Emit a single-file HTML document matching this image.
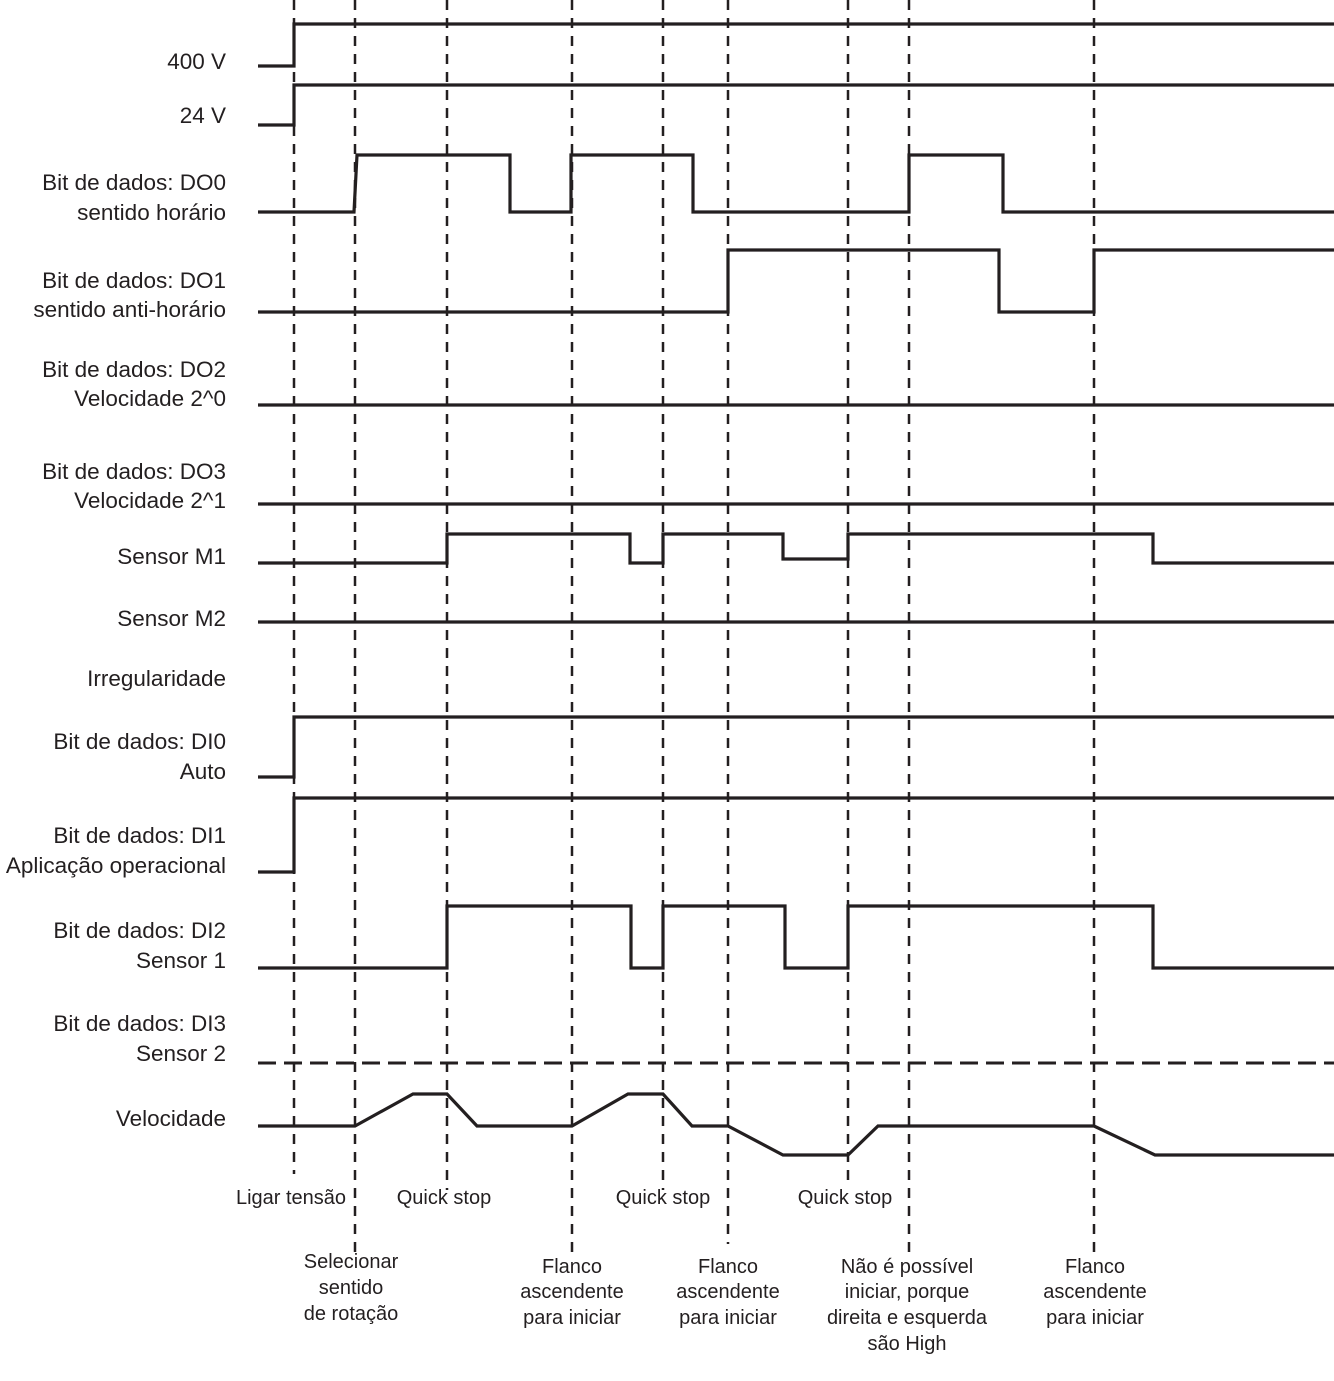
<!DOCTYPE html>
<html><head><meta charset="utf-8"><style>
html,body{margin:0;padding:0;background:#fff;}
svg{display:block;}
text{font-family:"Liberation Sans",sans-serif;font-size:22.5px;fill:#231f20;}
text.b{font-size:20px;}
</style></head><body>
<svg width="1334" height="1381" viewBox="0 0 1334 1381" xmlns="http://www.w3.org/2000/svg">
<g stroke="#231f20" stroke-width="2.5" stroke-dasharray="10,8" fill="none">
<line x1="294" y1="0" x2="294" y2="1174"/>
<line x1="355" y1="0" x2="355" y2="1256"/>
<line x1="447" y1="0" x2="447" y2="1190"/>
<line x1="572" y1="0" x2="572" y2="1254"/>
<line x1="663" y1="0" x2="663" y2="1190"/>
<line x1="728" y1="0" x2="728" y2="1244"/>
<line x1="848" y1="0" x2="848" y2="1180"/>
<line x1="909" y1="0" x2="909" y2="1254"/>
<line x1="1094" y1="0" x2="1094" y2="1254"/>
</g>
<line x1="258" y1="1063" x2="1334" y2="1063" stroke="#231f20" stroke-width="3" stroke-dasharray="18,8"/>
<g stroke="#231f20" stroke-width="3.2" fill="none" stroke-linejoin="miter">
<polyline points="258,66 294,66 294,24 1334,24"/>
<polyline points="258,125 294,125 294,85 1334,85"/>
<polyline points="258,212 354,212 357,155 510,155 510,212 571,212 571,155 693,155 693,212 909,212 909,155 1003,155 1003,212 1334,212"/>
<polyline points="258,312 728,312 728,250 999,250 999,312 1094,312 1094,250 1334,250"/>
<line x1="258" y1="405" x2="1334" y2="405"/>
<line x1="258" y1="504" x2="1334" y2="504"/>
<polyline points="258,563 447,563 447,534 630,534 630,563 663,563 663,534 783,534 783,559 848,559 848,534 1153,534 1153,563 1334,563"/>
<line x1="258" y1="622" x2="1334" y2="622"/>
<polyline points="258,777 294,777 294,717 1334,717"/>
<polyline points="258,872 294,872 294,798 1334,798"/>
<polyline points="258,968 447,968 447,906 631,906 631,968 663,968 663,906 785,906 785,968 848,968 848,906 1153,906 1153,968 1334,968"/>
<polyline points="258,1126 355,1126 413,1094 447,1094 477,1126 572,1126 628,1094 663,1094 692,1126 728,1126 783,1155 848,1155 878,1126 1094,1126 1155,1155 1334,1155"/>
</g>
<g text-anchor="end">
<text x="226" y="69">400 V</text>
<text x="226" y="123">24 V</text>
<text x="226" y="190">Bit de dados: DO0</text>
<text x="226" y="220">sentido horário</text>
<text x="226" y="288">Bit de dados: DO1</text>
<text x="226" y="317">sentido anti-horário</text>
<text x="226" y="377">Bit de dados: DO2</text>
<text x="226" y="406">Velocidade 2^0</text>
<text x="226" y="479">Bit de dados: DO3</text>
<text x="226" y="508">Velocidade 2^1</text>
<text x="226" y="564">Sensor M1</text>
<text x="226" y="626">Sensor M2</text>
<text x="226" y="686">Irregularidade</text>
<text x="226" y="749">Bit de dados: DI0</text>
<text x="226" y="779">Auto</text>
<text x="226" y="843">Bit de dados: DI1</text>
<text x="226" y="873">Aplicação operacional</text>
<text x="226" y="938">Bit de dados: DI2</text>
<text x="226" y="968">Sensor 1</text>
<text x="226" y="1031">Bit de dados: DI3</text>
<text x="226" y="1061">Sensor 2</text>
<text x="226" y="1126">Velocidade</text>
</g>
<g text-anchor="middle">
<text class="b" x="291" y="1204">Ligar tensão</text>
<text class="b" x="444" y="1204">Quick stop</text>
<text class="b" x="663" y="1204">Quick stop</text>
<text class="b" x="845" y="1204">Quick stop</text>
<text class="b" x="351" y="1268">Selecionar</text>
<text class="b" x="351" y="1294">sentido</text>
<text class="b" x="351" y="1320">de rotação</text>
<text class="b" x="572" y="1273">Flanco</text>
<text class="b" x="572" y="1298">ascendente</text>
<text class="b" x="572" y="1324">para iniciar</text>
<text class="b" x="728" y="1273">Flanco</text>
<text class="b" x="728" y="1298">ascendente</text>
<text class="b" x="728" y="1324">para iniciar</text>
<text class="b" x="907" y="1273">Não é possível</text>
<text class="b" x="907" y="1298">iniciar, porque</text>
<text class="b" x="907" y="1324">direita e esquerda</text>
<text class="b" x="907" y="1350">são High</text>
<text class="b" x="1095" y="1273">Flanco</text>
<text class="b" x="1095" y="1298">ascendente</text>
<text class="b" x="1095" y="1324">para iniciar</text>
</g>
</svg>
</body></html>
